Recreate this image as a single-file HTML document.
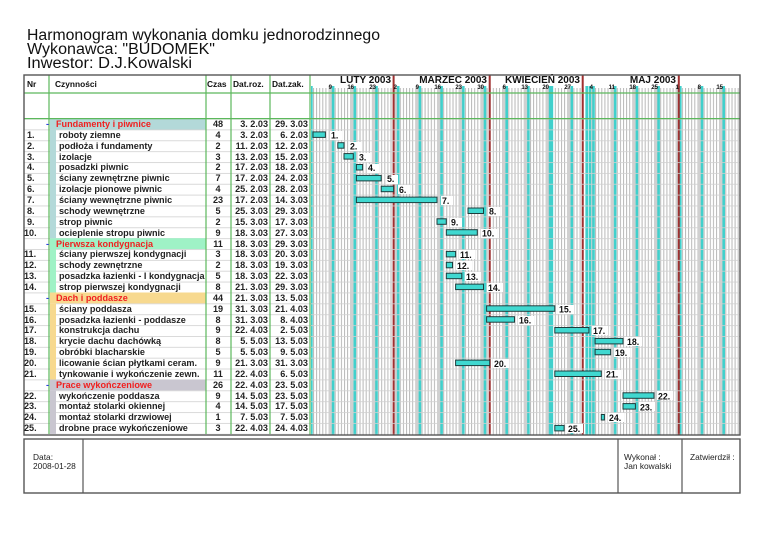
<!DOCTYPE html>
<html><head><meta charset="utf-8">
<style>
body{margin:0;background:#fff;}
svg{display:block;font-family:"Liberation Sans",Arial,sans-serif;}
.t{font-size:9.1px;font-weight:bold;fill:#222;white-space:pre;}
.g{font-size:9.1px;font-weight:bold;fill:#f02020;}
.h{font-size:8.4px;font-weight:bold;fill:#111;}
.m{font-size:10px;font-weight:bold;fill:#111;}
.d{font-size:6px;font-weight:bold;fill:#111;}
.l{font-size:8.8px;font-weight:bold;fill:#111;}
.f{font-size:8.4px;fill:#222;}
</style></head><body>
<svg width="768" height="543" viewBox="0 0 768 543" xmlns="http://www.w3.org/2000/svg">
<defs>
<pattern id="day" patternUnits="userSpaceOnUse" x="306.8" y="0" width="3.1" height="10"><rect x="0" y="0" width="1" height="10" fill="#b8b8b8"/></pattern>
<pattern id="wk" patternUnits="userSpaceOnUse" x="328.5" y="0" width="21.7" height="10"><rect x="0" y="0" width="3.1" height="10" fill="#d0d0d0"/><rect x="3.3" y="0" width="2.6" height="10" fill="#40d0cc"/></pattern>
<pattern id="hr" patternUnits="userSpaceOnUse" x="0" y="118.6" width="10" height="10.87"><rect x="0" y="0" width="10" height="0.8" fill="#d0d0d0"/></pattern>
</defs>
<text x="27" y="40" font-size="15.5" fill="#111" textLength="353" lengthAdjust="spacingAndGlyphs">Harmonogram wykonania domku jednorodzinnego</text>
<text x="27" y="54" font-size="15.5" fill="#111" textLength="188" lengthAdjust="spacingAndGlyphs">Wykonawca: "BUDOMEK"</text>
<text x="27" y="68" font-size="15.5" fill="#111" textLength="165" lengthAdjust="spacingAndGlyphs">Inwestor: D.J.Kowalski</text>

<!-- chart grid -->
<rect x="311" y="88" width="429" height="347" fill="url(#day)"/>
<rect x="311" y="86" width="429" height="349" fill="url(#wk)"/>
<rect x="550.6" y="86" width="2.6" height="349" fill="#40d0cc"/>
<rect x="585.4" y="86" width="2.6" height="349" fill="#40d0cc"/>
<rect x="588.6" y="86" width="2.6" height="349" fill="#40d0cc"/>
<g fill="#a03030">
<rect x="392.6" y="75" width="2" height="360"/>
<rect x="488.7" y="75" width="2" height="360"/>
<rect x="581.7" y="75" width="2" height="360"/>
<rect x="677.8" y="75" width="2" height="360"/>
</g>
<rect x="24" y="118.6" width="716" height="315.3" fill="url(#hr)"/>

<!-- group backgrounds -->
<rect x="50" y="118.6" width="156" height="10.87" fill="#b3d9d9"/>
<rect x="50" y="238.2" width="156" height="10.87" fill="#9ff2c6"/>
<rect x="50" y="292.5" width="156" height="10.87" fill="#f7d98f"/>
<rect x="50" y="379.5" width="156" height="10.87" fill="#c9c6d0"/>
<rect x="50" y="129.5" width="6" height="108.7" fill="#b3d9d9"/>
<rect x="50" y="249.1" width="6" height="43.4" fill="#9ff2c6"/>
<rect x="50" y="303.4" width="6" height="76.1" fill="#f7d98f"/>
<rect x="50" y="390.4" width="6" height="43.5" fill="#c9c6d0"/>

<!-- table lines -->
<g stroke="#5cb85c" stroke-width="1.2">
<line x1="49" y1="75" x2="49" y2="434"/>
<line x1="206" y1="75" x2="206" y2="434"/>
<line x1="231" y1="75" x2="231" y2="434"/>
<line x1="270" y1="75" x2="270" y2="434"/>
<line x1="310" y1="75" x2="310" y2="435"/>
<line x1="24" y1="93" x2="740" y2="93"/>
<line x1="24" y1="118.6" x2="740" y2="118.6"/>
</g>
<rect x="24" y="75" width="716" height="360" fill="none" stroke="#555" stroke-width="1.4"/>

<!-- header -->
<text class="h" x="27" y="87">Nr</text>
<text class="h" x="55" y="87">Czynności</text>
<text class="h" x="207" y="87">Czas</text>
<text class="h" x="233" y="87">Dat.roz.</text>
<text class="h" x="272" y="87">Dat.zak.</text>
<g class="m" text-anchor="end">
<text x="391" y="83">LUTY 2003</text>
<text x="487" y="83">MARZEC 2003</text>
<text x="580" y="83">KWIECIEŃ 2003</text>
<text x="676" y="83">MAJ 2003</text>
</g>
<g class="d" text-anchor="end">
<text x="332" y="89">9</text><text x="354" y="89">16</text><text x="376" y="89">23</text><text x="397" y="89">2</text>
<text x="419" y="89">9</text><text x="441" y="89">16</text><text x="462" y="89">23</text><text x="484" y="89">30</text>
<text x="506" y="89">6</text><text x="528" y="89">13</text><text x="549" y="89">20</text><text x="571" y="89">27</text>
<text x="593" y="89">4</text><text x="615" y="89">11</text><text x="636" y="89">18</text><text x="658" y="89">25</text>
<text x="679" y="89">1</text><text x="701" y="89">8</text><text x="723" y="89">15</text>
</g>

<!-- table rows -->
<g class="t">
<text x="46" y="127" fill="#3040e0">-</text><text class="g" x="56" y="127">Fundamenty i piwnice</text>
<text x="27" y="138">1.</text><text x="59" y="138">roboty ziemne</text>
<text x="27" y="149">2.</text><text x="59" y="149">podłoża i fundamenty</text>
<text x="27" y="160">3.</text><text x="59" y="160">izolacje</text>
<text x="27" y="170">4.</text><text x="59" y="170">posadzki piwnic</text>
<text x="27" y="181">5.</text><text x="59" y="181">ściany zewnętrzne piwnic</text>
<text x="27" y="192">6.</text><text x="59" y="192">izolacje pionowe piwnic</text>
<text x="27" y="203">7.</text><text x="59" y="203">ściany wewnętrzne piwnic</text>
<text x="27" y="214">8.</text><text x="59" y="214">schody wewnętrzne</text>
<text x="27" y="225">9.</text><text x="59" y="225">strop piwnic</text>
<text x="24" y="236">10.</text><text x="59" y="236">ocieplenie stropu piwnic</text>
<text x="46" y="247" fill="#3040e0">-</text><text class="g" x="56" y="247">Pierwsza kondygnacja</text>
<text x="24" y="257">11.</text><text x="59" y="257">ściany pierwszej kondygnacji</text>
<text x="24" y="268">12.</text><text x="59" y="268">schody zewnętrzne</text>
<text x="24" y="279">13.</text><text x="59" y="279">posadzka łazienki - I kondygnacja</text>
<text x="24" y="290">14.</text><text x="59" y="290">strop pierwszej kondygnacji</text>
<text x="46" y="301" fill="#3040e0">-</text><text class="g" x="56" y="301">Dach i poddasze</text>
<text x="24" y="312">15.</text><text x="59" y="312">ściany poddasza</text>
<text x="24" y="323">16.</text><text x="59" y="323">posadzka łazienki - poddasze</text>
<text x="24" y="333">17.</text><text x="59" y="333">konstrukcja dachu</text>
<text x="24" y="344">18.</text><text x="59" y="344">krycie dachu dachówką</text>
<text x="24" y="355">19.</text><text x="59" y="355">obróbki blacharskie</text>
<text x="24" y="366">20.</text><text x="59" y="366">licowanie ścian płytkami ceram.</text>
<text x="24" y="377">21.</text><text x="59" y="377">tynkowanie i wykończenie zewn.</text>
<text x="46" y="388" fill="#3040e0">-</text><text class="g" x="56" y="388">Prace wykończeniowe</text>
<text x="24" y="399">22.</text><text x="59" y="399">wykończenie poddasza</text>
<text x="24" y="409">23.</text><text x="59" y="409">montaż stolarki okiennej</text>
<text x="24" y="420">24.</text><text x="59" y="420">montaż stolarki drzwiowej</text>
<text x="24" y="431">25.</text><text x="59" y="431">drobne prace wykończeniowe</text>
</g>
<g class="t" text-anchor="middle">
<text x="218" y="127">48</text><text x="218" y="138">4</text><text x="218" y="149">2</text><text x="218" y="160">3</text><text x="218" y="170">2</text><text x="218" y="181">7</text><text x="218" y="192">4</text><text x="218" y="203">23</text><text x="218" y="214">5</text><text x="218" y="225">2</text><text x="218" y="236">9</text>
<text x="218" y="247">11</text><text x="218" y="257">3</text><text x="218" y="268">2</text><text x="218" y="279">5</text><text x="218" y="290">8</text>
<text x="218" y="301">44</text><text x="218" y="312">19</text><text x="218" y="323">8</text><text x="218" y="333">9</text><text x="218" y="344">8</text><text x="218" y="355">5</text><text x="218" y="366">9</text><text x="218" y="377">11</text>
<text x="218" y="388">26</text><text x="218" y="399">9</text><text x="218" y="409">4</text><text x="218" y="420">1</text><text x="218" y="431">3</text>
</g>
<g class="t" text-anchor="end">
<text x="268" y="127">3. 2.03</text><text x="308" y="127">29. 3.03</text>
<text x="268" y="138">3. 2.03</text><text x="308" y="138">6. 2.03</text>
<text x="268" y="149">11. 2.03</text><text x="308" y="149">12. 2.03</text>
<text x="268" y="160">13. 2.03</text><text x="308" y="160">15. 2.03</text>
<text x="268" y="170">17. 2.03</text><text x="308" y="170">18. 2.03</text>
<text x="268" y="181">17. 2.03</text><text x="308" y="181">24. 2.03</text>
<text x="268" y="192">25. 2.03</text><text x="308" y="192">28. 2.03</text>
<text x="268" y="203">17. 2.03</text><text x="308" y="203">14. 3.03</text>
<text x="268" y="214">25. 3.03</text><text x="308" y="214">29. 3.03</text>
<text x="268" y="225">15. 3.03</text><text x="308" y="225">17. 3.03</text>
<text x="268" y="236">18. 3.03</text><text x="308" y="236">27. 3.03</text>
<text x="268" y="247">18. 3.03</text><text x="308" y="247">29. 3.03</text>
<text x="268" y="257">18. 3.03</text><text x="308" y="257">20. 3.03</text>
<text x="268" y="268">18. 3.03</text><text x="308" y="268">19. 3.03</text>
<text x="268" y="279">18. 3.03</text><text x="308" y="279">22. 3.03</text>
<text x="268" y="290">21. 3.03</text><text x="308" y="290">29. 3.03</text>
<text x="268" y="301">21. 3.03</text><text x="308" y="301">13. 5.03</text>
<text x="268" y="312">31. 3.03</text><text x="308" y="312">21. 4.03</text>
<text x="268" y="323">31. 3.03</text><text x="308" y="323">8. 4.03</text>
<text x="268" y="333">22. 4.03</text><text x="308" y="333">2. 5.03</text>
<text x="268" y="344">5. 5.03</text><text x="308" y="344">13. 5.03</text>
<text x="268" y="355">5. 5.03</text><text x="308" y="355">9. 5.03</text>
<text x="268" y="366">21. 3.03</text><text x="308" y="366">31. 3.03</text>
<text x="268" y="377">22. 4.03</text><text x="308" y="377">6. 5.03</text>
<text x="268" y="388">22. 4.03</text><text x="308" y="388">23. 5.03</text>
<text x="268" y="399">14. 5.03</text><text x="308" y="399">23. 5.03</text>
<text x="268" y="409">14. 5.03</text><text x="308" y="409">17. 5.03</text>
<text x="268" y="420">7. 5.03</text><text x="308" y="420">7. 5.03</text>
<text x="268" y="431">22. 4.03</text><text x="308" y="431">24. 4.03</text>
</g>

<!-- bars -->
<g fill="#40d8d0" stroke="#1e3c3c" stroke-width="1">
<rect x="313" y="131.9" width="12.4" height="5.5"/>
<rect x="337.8" y="142.7" width="6.2" height="5.5"/>
<rect x="344" y="153.6" width="9.3" height="5.5"/>
<rect x="356.4" y="164.5" width="6.2" height="5.5"/>
<rect x="356.4" y="175.4" width="24.8" height="5.5"/>
<rect x="381.2" y="186.2" width="12.4" height="5.5"/>
<rect x="356.4" y="197.1" width="80.6" height="5.5"/>
<rect x="468" y="208" width="15.5" height="5.5"/>
<rect x="437" y="218.8" width="9.3" height="5.5"/>
<rect x="446.3" y="229.7" width="31" height="5.5"/>
<rect x="446.3" y="251.4" width="9.3" height="5.5"/>
<rect x="446.3" y="262.3" width="6.2" height="5.5"/>
<rect x="446.3" y="273.2" width="15.5" height="5.5"/>
<rect x="455.6" y="284.1" width="27.9" height="5.5"/>
<rect x="486.6" y="305.8" width="68.2" height="5.5"/>
<rect x="486.6" y="316.7" width="27.9" height="5.5"/>
<rect x="554.8" y="327.5" width="34.1" height="5.5"/>
<rect x="595.1" y="338.4" width="27.9" height="5.5"/>
<rect x="595.1" y="349.3" width="15.5" height="5.5"/>
<rect x="455.6" y="360.1" width="34.1" height="5.5"/>
<rect x="554.8" y="371" width="46.5" height="5.5"/>
<rect x="623" y="392.8" width="31" height="5.5"/>
<rect x="623" y="403.6" width="12.4" height="5.5"/>
<rect x="601.3" y="414.5" width="3.1" height="5.5"/>
<rect x="554.8" y="425.4" width="9.3" height="5.5"/>
</g>
<g fill="#fff">
<rect x="330" y="131" width="12" height="9"/><rect x="349" y="142" width="12" height="9"/><rect x="358" y="153" width="12" height="9"/>
<rect x="367" y="164" width="12" height="9"/><rect x="386" y="175" width="12" height="9"/><rect x="398" y="185" width="12" height="9"/>
<rect x="441" y="196" width="12" height="9"/><rect x="488" y="207" width="12" height="9"/><rect x="450" y="218" width="12" height="9"/>
<rect x="481" y="229" width="16" height="9"/><rect x="459" y="250" width="16" height="9"/><rect x="456" y="261" width="16" height="9"/>
<rect x="465" y="272" width="16" height="9"/><rect x="487" y="283" width="16" height="9"/><rect x="558" y="305" width="16" height="9"/>
<rect x="518" y="316" width="16" height="9"/><rect x="592" y="326" width="16" height="9"/><rect x="626" y="337" width="16" height="9"/>
<rect x="614" y="348" width="16" height="9"/><rect x="493" y="359" width="16" height="9"/><rect x="605" y="370" width="16" height="9"/>
<rect x="657" y="391" width="16" height="9"/><rect x="639" y="402" width="16" height="9"/><rect x="608" y="413" width="16" height="9"/>
<rect x="567" y="424" width="16" height="9"/>
</g>
<g class="l">
<text x="331" y="138.5">1.</text><text x="350" y="149.5">2.</text><text x="359" y="160.3">3.</text>
<text x="368" y="171.2">4.</text><text x="387" y="182">5.</text><text x="399" y="193">6.</text>
<text x="442" y="203.8">7.</text><text x="489" y="214.7">8.</text><text x="451" y="225.5">9.</text>
<text x="482" y="236.4">10.</text><text x="460" y="258.1">11.</text><text x="457" y="269">12.</text>
<text x="466" y="279.9">13.</text><text x="488" y="290.8">14.</text><text x="559" y="312.5">15.</text>
<text x="519" y="323.4">16.</text><text x="593" y="334.2">17.</text><text x="627" y="345.1">18.</text>
<text x="615" y="356">19.</text><text x="494" y="366.8">20.</text><text x="606" y="377.7">21.</text>
<text x="658" y="399.5">22.</text><text x="640" y="410.3">23.</text><text x="609" y="421.2">24.</text>
<text x="568" y="432.1">25.</text>
</g>

<!-- footer -->
<rect x="24" y="439" width="716" height="54" fill="none" stroke="#555" stroke-width="1.4"/>
<g stroke="#555" stroke-width="1.2">
<line x1="83" y1="439" x2="83" y2="493"/>
<line x1="618" y1="439" x2="618" y2="493"/>
<line x1="682" y1="439" x2="682" y2="493"/>
</g>
<text class="f" x="33" y="460">Data:</text>
<text class="f" x="33" y="469">2008-01-28</text>
<text class="f" x="624" y="460">Wykonał :</text>
<text class="f" x="624" y="469">Jan kowalski</text>
<text class="f" x="690" y="460">Zatwierdził :</text>
</svg>
</body></html>
